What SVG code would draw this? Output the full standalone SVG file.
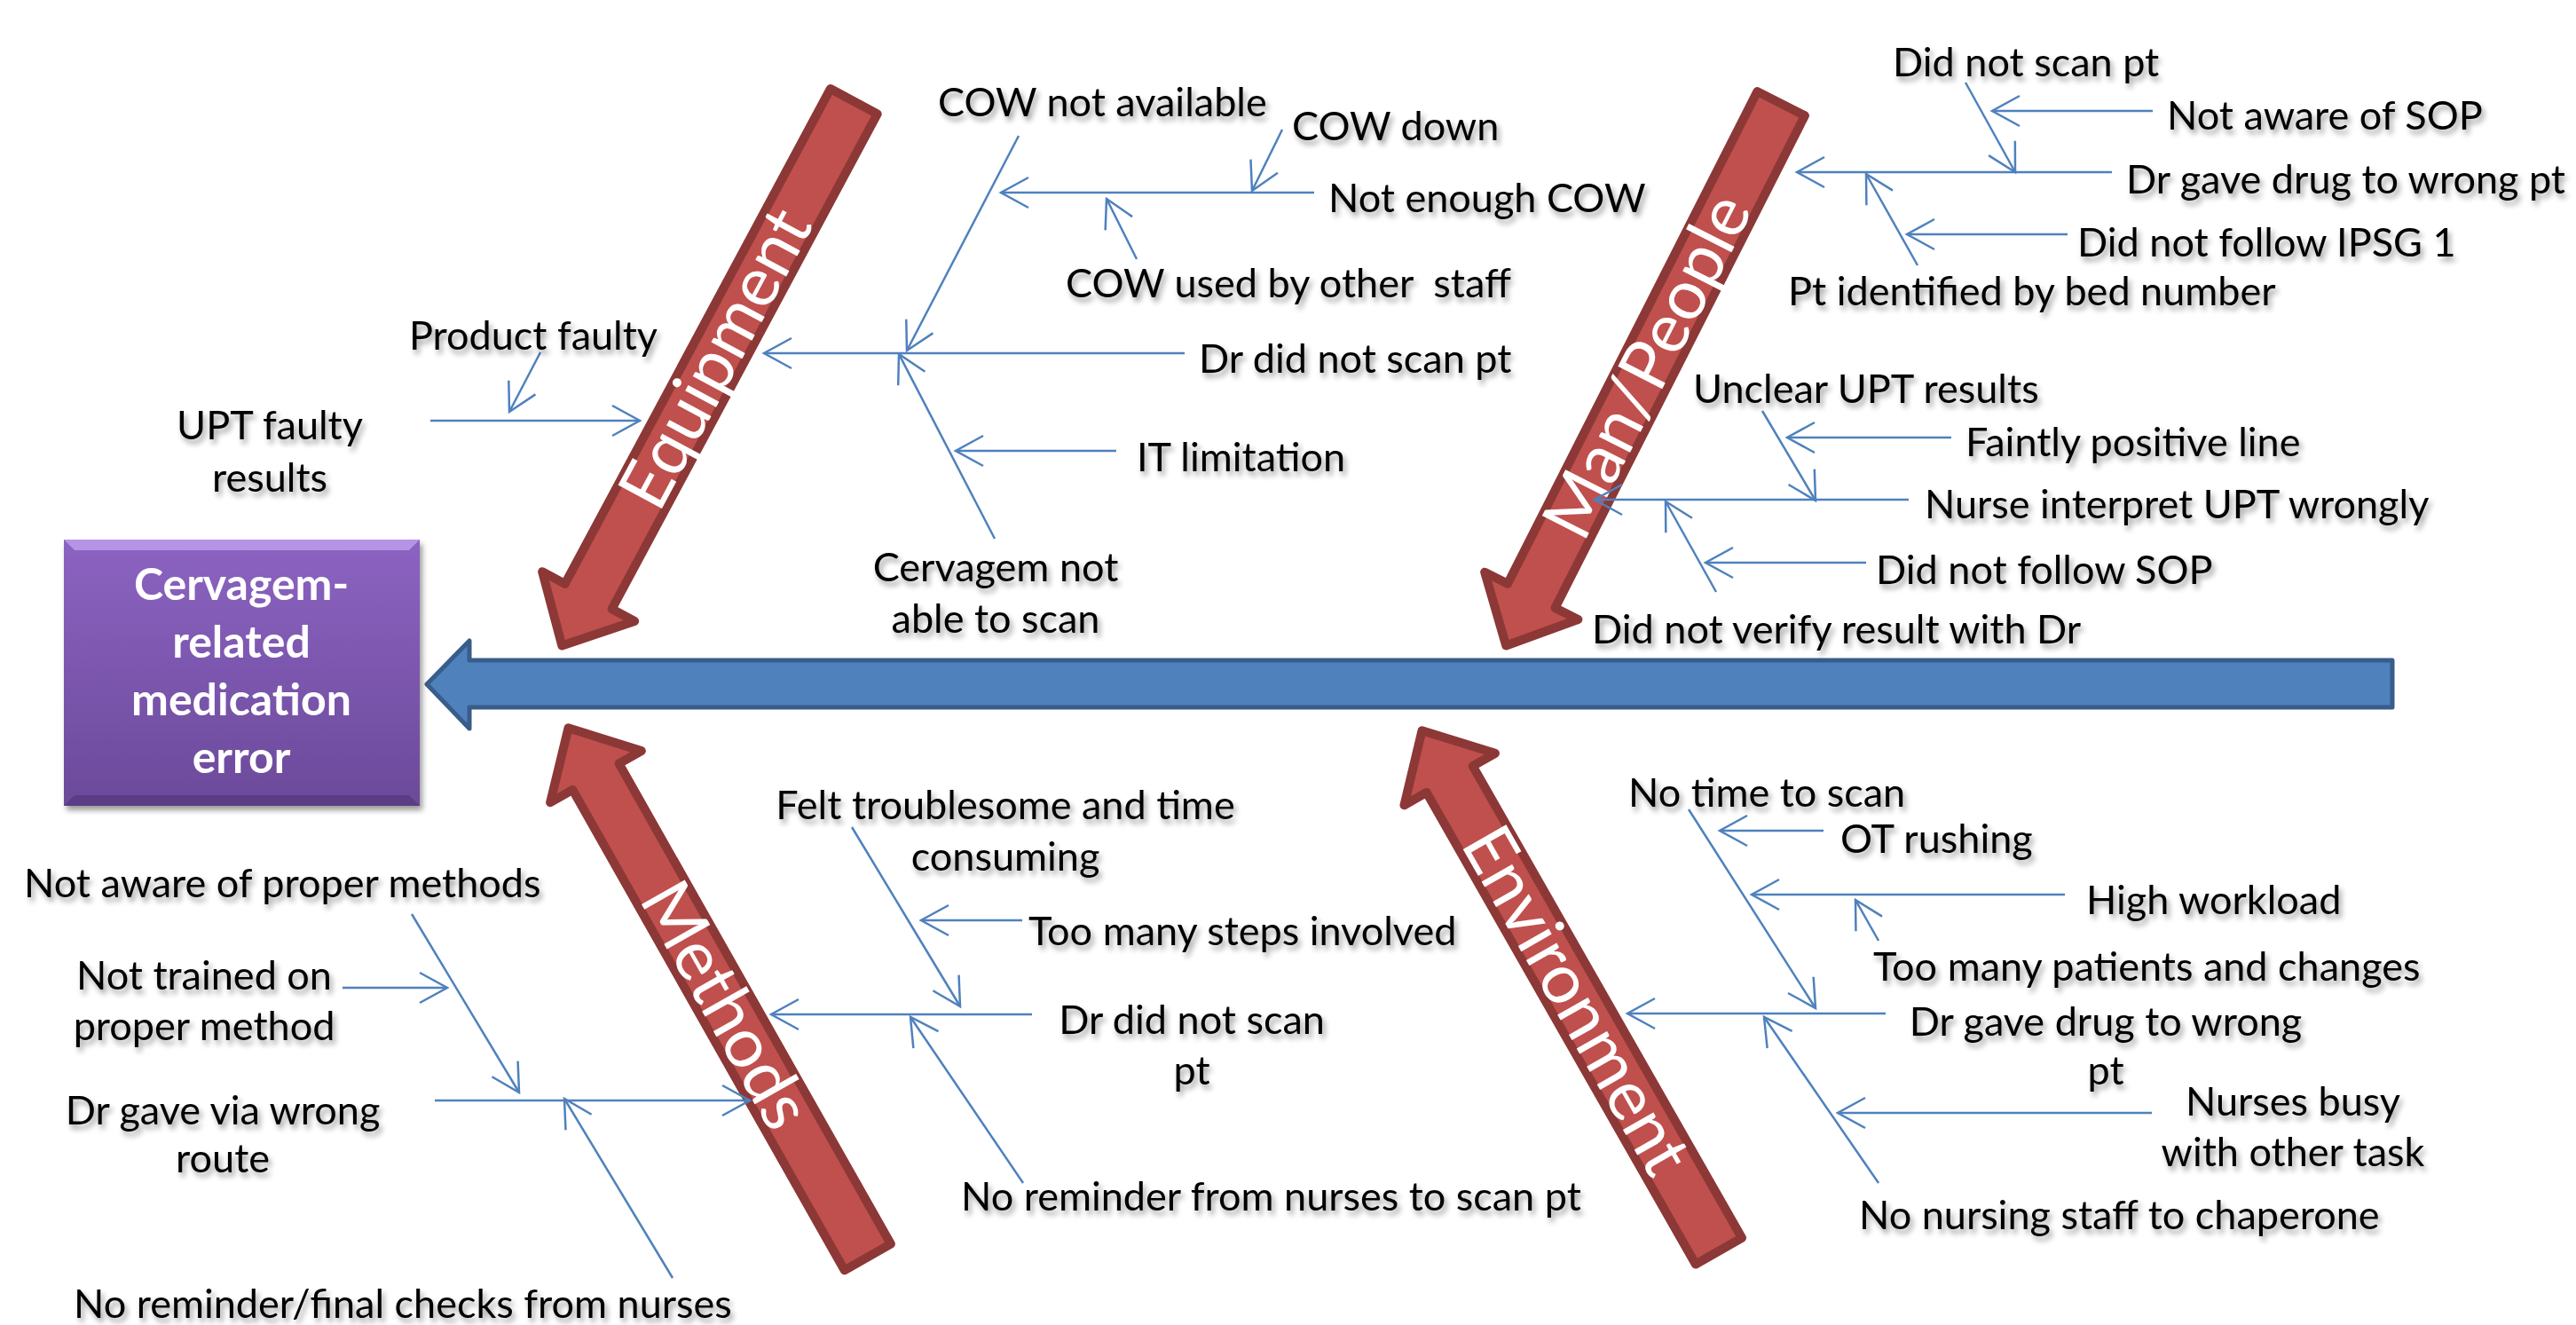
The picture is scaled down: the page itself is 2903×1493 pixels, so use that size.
<svg xmlns="http://www.w3.org/2000/svg" width="2903" height="1493" viewBox="0 0 2903 1493">
<defs>
<style>
.lbl{font-family:Lato,"Liberation Sans",sans-serif;font-size:45px;fill:#000;}
.mid{text-anchor:middle;}
.cat{font-family:Lato,"Liberation Sans",sans-serif;font-size:78px;fill:#fff;text-anchor:middle;}
.box{font-family:Lato,"Liberation Sans",sans-serif;font-size:50px;font-weight:bold;fill:#fff;text-anchor:middle;}
.red{fill:#c0504d;stroke:#8c3836;stroke-width:10;stroke-linejoin:round;}
.con line{stroke:#4f81bd;stroke-width:2.5;fill:none;marker-end:url(#ah);}
</style>
<marker id="ah" markerUnits="userSpaceOnUse" markerWidth="40" markerHeight="40" viewBox="-36 -20 40 40" refX="0" refY="0" orient="auto">
<path d="M-31,-17 L0,0 L-31,17" fill="none" stroke="#4f81bd" stroke-width="2.5"/>
</marker>
<linearGradient id="pg" x1="0" y1="0" x2="0" y2="1">
<stop offset="0" stop-color="#8c63c2"/>
<stop offset="1" stop-color="#6b4a9a"/>
</linearGradient>
<filter id="sh" x="-10%" y="-30%" width="120%" height="170%">
<feGaussianBlur in="SourceAlpha" stdDeviation="3"/>
<feOffset dx="3" dy="5" result="b"/>
<feComponentTransfer><feFuncA type="linear" slope="0.4"/></feComponentTransfer>
<feMerge><feMergeNode/><feMergeNode in="SourceGraphic"/></feMerge>
</filter>
</defs>
<rect width="2903" height="1493" fill="#fff"/>

<g id="spine">
<polygon points="481,771 529,722 529,744 2696,744 2696,797 529,797 529,821" fill="#4f81bd" stroke="#385d8a" stroke-width="5" stroke-linejoin="round"/>
</g>

<g id="effect" filter="url(#sh)">
<rect x="72" y="608" width="401" height="300" fill="url(#pg)"/>
<polygon points="72,608 473,608 461,620 84,620" fill="#b594e6"/>
<polygon points="72,908 473,908 461,896 84,896" fill="#5a3d85"/>
<text class="box" x="272" y="676">Cervagem-</text>
<text class="box" x="272" y="741">related</text>
<text class="box" x="272" y="806">medication</text>
<text class="box" x="272" y="871">error</text>
</g>

<g id="cat-equipment" transform="translate(631,732) rotate(-61.8)">
<polygon class="red" points="5,0 68,-59 68,-30 701,-30 701,30 68,30 68,59"/>
<text class="cat" x="372" y="26">Equipment</text>
</g>
<g id="cat-man" transform="translate(1695,732) rotate(-63.1)">
<polygon class="red" points="5,0 68,-59 68,-30 690,-30 690,30 68,30 68,59"/>
<text class="cat" x="358" y="26">Man/People</text>
</g>
<g id="cat-methods" transform="translate(638,816) rotate(60.5)">
<polygon class="red" points="5,0 68,-59 68,-30 690,-30 690,30 68,30 68,59"/>
<text class="cat" x="364" y="26">Methods</text>
</g>
<g id="cat-environment" transform="translate(1600,819) rotate(60.3)">
<polygon class="red" points="5,0 68,-59 68,-30 680,-30 680,30 68,30 68,59"/>
<text class="cat" x="355" y="26">Environment</text>
</g>

<g id="connectors" class="con">
<line x1="1148" y1="153" x2="1022" y2="395"/>
<line x1="1445" y1="146" x2="1411" y2="215"/>
<line x1="1481" y1="217" x2="1128" y2="217"/>
<line x1="1281" y1="292" x2="1247" y2="224"/>
<line x1="1335" y1="398" x2="861" y2="398"/>
<line x1="1121" y1="607" x2="1013" y2="399"/>
<line x1="1258" y1="508" x2="1077" y2="508"/>
<line x1="609" y1="397" x2="574" y2="464"/>
<line x1="485" y1="474" x2="721" y2="474"/>

<line x1="2215" y1="93" x2="2271" y2="194"/>
<line x1="2426" y1="125" x2="2245" y2="125"/>
<line x1="2380" y1="194" x2="2025" y2="194"/>
<line x1="2161" y1="299" x2="2103" y2="196"/>
<line x1="2330" y1="264" x2="2149" y2="264"/>
<line x1="1986" y1="463" x2="2046" y2="564"/>
<line x1="2199" y1="493" x2="2014" y2="493"/>
<line x1="2151" y1="563" x2="1797" y2="563"/>
<line x1="1934" y1="667" x2="1877" y2="565"/>
<line x1="2103" y1="634" x2="1922" y2="634"/>

<line x1="464" y1="1030" x2="585" y2="1231"/>
<line x1="386" y1="1113" x2="504" y2="1113"/>
<line x1="490" y1="1240" x2="845" y2="1240"/>
<line x1="758" y1="1440" x2="636" y2="1238"/>
<line x1="960" y1="932" x2="1082" y2="1134"/>
<line x1="1152" y1="1037" x2="1038" y2="1037"/>
<line x1="1163" y1="1143" x2="869" y2="1143"/>
<line x1="1153" y1="1333" x2="1026" y2="1146"/>

<line x1="1903" y1="912" x2="2046" y2="1136"/>
<line x1="2055" y1="936" x2="1938" y2="936"/>
<line x1="2327" y1="1008" x2="1974" y2="1008"/>
<line x1="2117" y1="1060" x2="2091" y2="1014"/>
<line x1="2125" y1="1142" x2="1834" y2="1142"/>
<line x1="2117" y1="1333" x2="1988" y2="1146"/>
<line x1="2425" y1="1254" x2="2071" y2="1254"/>
</g>

<g id="labels" class="lbl" filter="url(#sh)">
<g id="n-cow-na"><text class="lbl" x="1057" y="131">COW not available</text></g>
<g id="n-cow-down"><text class="lbl" x="1456" y="158">COW down</text></g>
<g id="n-not-enough"><text class="lbl" x="1497" y="239">Not enough COW</text></g>
<g id="n-cow-used"><text class="lbl" x="1201" y="335" style="white-space:pre">COW used by other  staff</text></g>
<g id="n-dr-scan1"><text class="lbl" x="1351" y="420">Dr did not scan pt</text></g>
<g id="n-it"><text class="lbl" x="1281" y="531">IT limitation</text></g>
<g id="n-cerv"><text class="lbl mid" x="1122" y="655">Cervagem not</text><text class="lbl mid" x="1122" y="713">able to scan</text></g>
<g id="n-product"><text class="lbl" x="461" y="394">Product faulty</text></g>
<g id="n-upt"><text class="lbl mid" x="304" y="495">UPT faulty</text><text class="lbl mid" x="304" y="554">results</text></g>

<g id="n-did-scan"><text class="lbl" x="2133" y="86">Did not scan pt</text></g>
<g id="n-sop1"><text class="lbl" x="2442" y="146">Not aware of SOP</text></g>
<g id="n-dr-wrong1"><text class="lbl" x="2396" y="218">Dr gave drug to wrong pt</text></g>
<g id="n-ipsg"><text class="lbl" x="2341" y="289">Did not follow IPSG 1</text></g>
<g id="n-bed"><text class="lbl" x="2015" y="344">Pt identified by bed number</text></g>
<g id="n-unclear"><text class="lbl" x="1908" y="454">Unclear UPT results</text></g>
<g id="n-faint"><text class="lbl" x="2215" y="514">Faintly positive line</text></g>
<g id="n-nurse-upt"><text class="lbl" x="2169" y="584">Nurse interpret UPT wrongly</text></g>
<g id="n-sop2"><text class="lbl" x="2114" y="658">Did not follow SOP</text></g>
<g id="n-verify"><text class="lbl" x="1794" y="725">Did not verify result with Dr</text></g>

<g id="n-aware-methods"><text class="lbl" x="27" y="1011">Not aware of proper methods</text></g>
<g id="n-trained"><text class="lbl mid" x="230" y="1115">Not trained on</text><text class="lbl mid" x="230" y="1172">proper method</text></g>
<g id="n-route"><text class="lbl mid" x="251" y="1267">Dr gave via wrong</text><text class="lbl mid" x="251" y="1321">route</text></g>
<g id="n-final"><text class="lbl" x="83" y="1485">No reminder/final checks from nurses</text></g>
<g id="n-felt"><text class="lbl mid" x="1133" y="923">Felt troublesome and time</text><text class="lbl mid" x="1133" y="981">consuming</text></g>
<g id="n-steps"><text class="lbl" x="1159" y="1065">Too many steps involved</text></g>
<g id="n-dr-scan2"><text class="lbl mid" x="1343" y="1165">Dr did not scan</text><text class="lbl mid" x="1343" y="1222">pt</text></g>
<g id="n-remind"><text class="lbl" x="1083" y="1364">No reminder from nurses to scan pt</text></g>

<g id="n-notime"><text class="lbl" x="1835" y="909">No time to scan</text></g>
<g id="n-ot"><text class="lbl" x="2074" y="961">OT rushing</text></g>
<g id="n-workload"><text class="lbl" x="2351" y="1030">High workload</text></g>
<g id="n-patients"><text class="lbl" x="2111" y="1105">Too many patients and changes</text></g>
<g id="n-dr-wrong2"><text class="lbl mid" x="2373" y="1167">Dr gave drug to wrong</text><text class="lbl mid" x="2373" y="1222">pt</text></g>
<g id="n-busy"><text class="lbl mid" x="2584" y="1257">Nurses busy</text><text class="lbl mid" x="2584" y="1314">with other task</text></g>
<g id="n-chaperone"><text class="lbl" x="2095" y="1385">No nursing staff to chaperone</text></g>
</g>
</svg>
